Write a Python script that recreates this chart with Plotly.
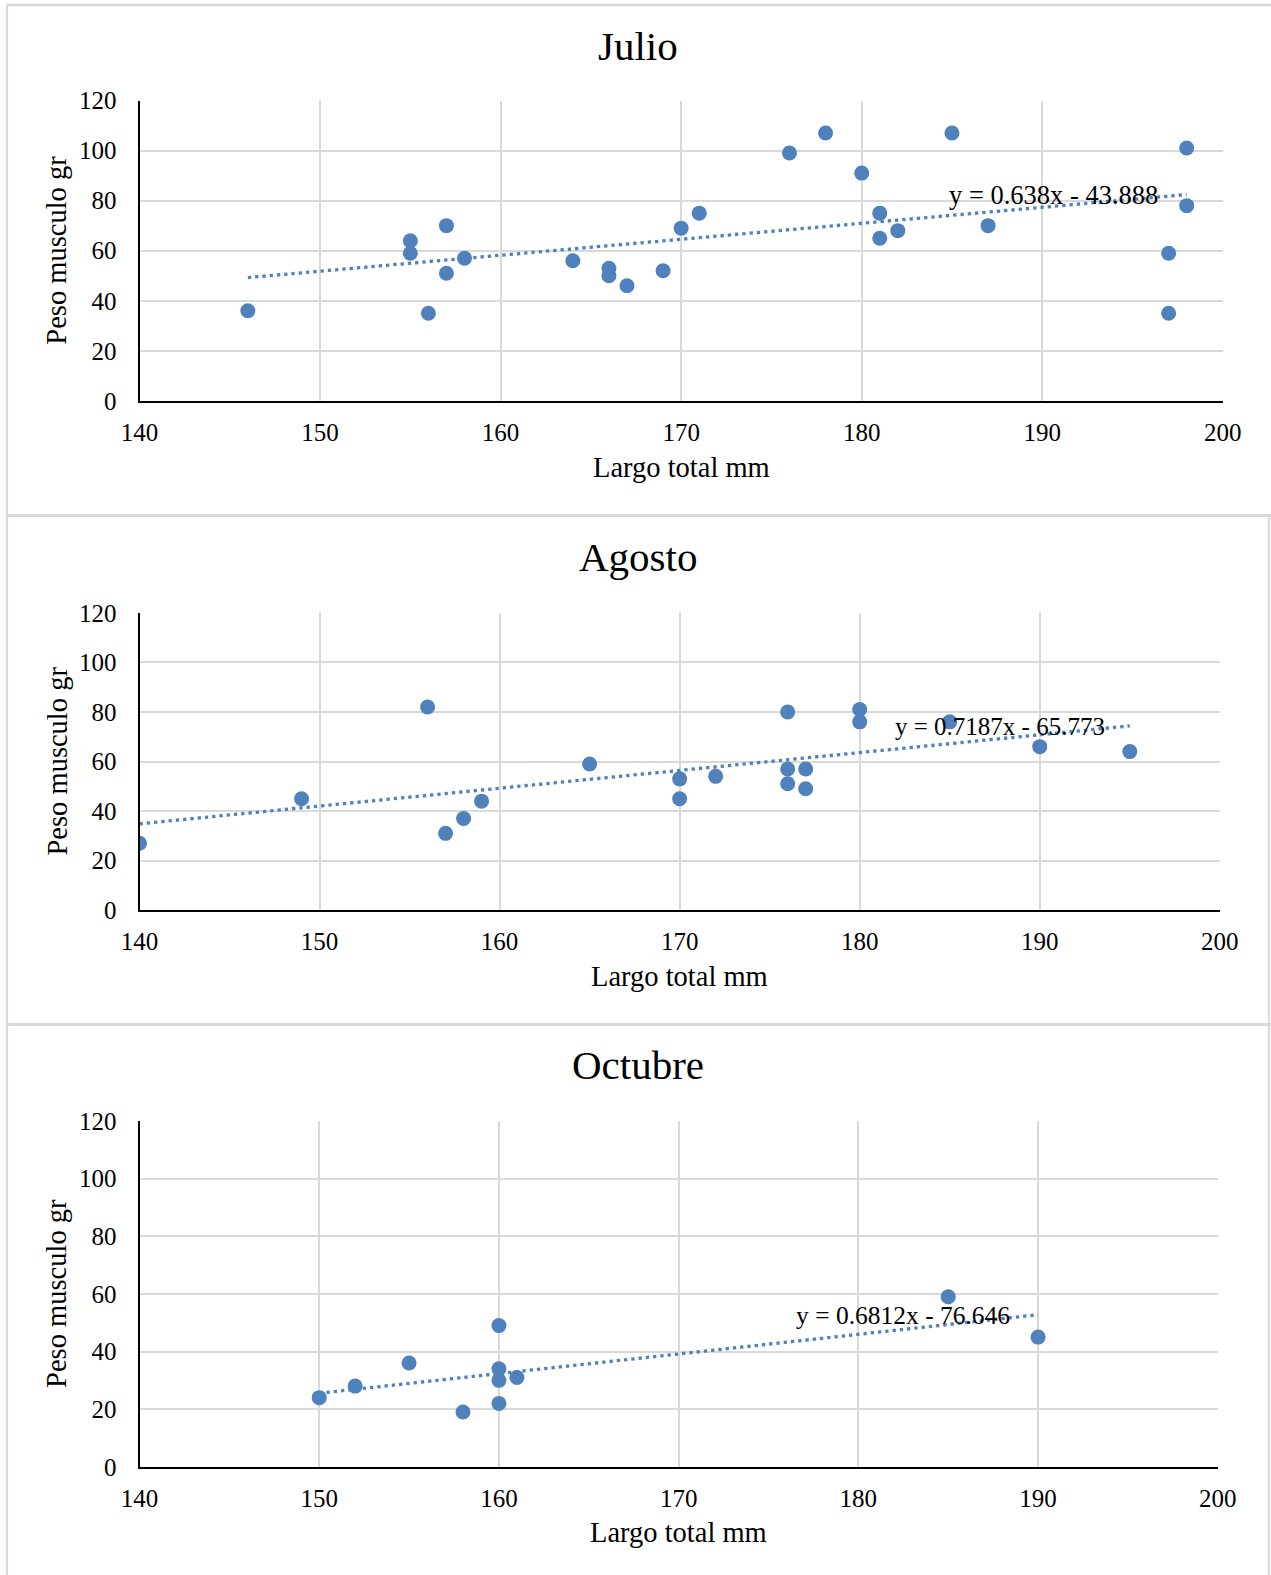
import plotly.graph_objects as go

W, H = 1271, 1575

# ---------------- data ----------------
months = ["Julio", "Agosto", "Octubre"]

julio_x = [146, 155, 155, 157, 157, 156, 158, 164, 166, 166, 167, 169, 170, 171,
           176, 178, 180, 181, 181, 182, 185, 187, 197, 197, 198, 198]
julio_y = [36, 64, 59, 70, 51, 35, 57, 56, 53, 50, 46, 52, 69, 75,
           99, 107, 91, 75, 65, 68, 107, 70, 59, 35, 101, 78]

agosto_x = [140, 149, 156, 157, 158, 159, 165, 170, 170, 172, 176, 176, 176,
            177, 177, 180, 180, 185, 190, 195]
agosto_y = [27, 45, 82, 31, 37, 44, 59, 53, 45, 54, 80, 57, 51,
            57, 49, 81, 76, 76, 66, 64]

octubre_x = [150, 152, 155, 158, 160, 160, 160, 160, 161, 185, 190]
octubre_y = [24, 28, 36, 19, 49, 34, 30, 22, 31, 59, 45]

# trendline coefficients (as printed on chart)
slopes = [0.638, 0.7187, 0.6812]
intercepts = [-43.888, -65.773, -76.646]
equations = ["y = 0.638x - 43.888", "y = 0.7187x - 65.773", "y = 0.6812x - 76.646"]

x_ticks = [140, 150, 160, 170, 180, 190, 200]
y_ticks = [0, 20, 40, 60, 80, 100, 120]

x_title = "Largo total mm"
y_title = "Peso musculo gr"

# ---------------- layout helpers ----------------
def px(x):
    return x / W

def py(y):
    return 1 - y / H

FONT = "Liberation Serif"
BLUE = "#4F81BD"
GRID = "#D9D9D9"

# plot areas in pixels: (left, right, top, bottom)
areas = [
    (139.5, 1222.8, 100.5, 400.9),
    (139.5, 1219.8, 612.8, 910.2),
    (139.5, 1217.8, 1121.0, 1466.8),
]
title_y = [46, 557, 1065]
xtitle_y = [467, 976, 1532]
eq_pos = [(1053, 195), (1000, 726), (903, 1315)]
eq_size = [26.5, 25, 25.5]

xs = [julio_x, agosto_x, octubre_x]
ys = [julio_y, agosto_y, octubre_y]

fig = go.Figure()
annotations = []
shapes = []

for i in range(3):
    sfx = "" if i == 0 else str(i + 1)
    xa = "x" + sfx
    ya = "y" + sfx
    l, r, t, b = areas[i]

    # trendline
    xmin, xmax = min(xs[i]), max(xs[i])
    fig.add_trace(go.Scatter(
        x=[xmin, xmax],
        y=[slopes[i] * xmin + intercepts[i], slopes[i] * xmax + intercepts[i]],
        mode="lines", line=dict(color=BLUE, width=3.3, dash="3.3px,4px"),
        xaxis=xa, yaxis=ya, showlegend=False, hoverinfo="skip"))
    # points
    fig.add_trace(go.Scatter(
        x=xs[i], y=ys[i], mode="markers",
        marker=dict(color=BLUE, size=15, line=dict(width=0)),
        xaxis=xa, yaxis=ya, showlegend=False))

    axis_common = dict(showgrid=True, gridcolor=GRID, gridwidth=1.8,
                       zeroline=False, showline=True, linecolor="black",
                       linewidth=2, ticks="", automargin=False,
                       tickfont=dict(family=FONT, size=25, color="black"))
    fig.update_layout(**{
        "xaxis" + sfx: dict(domain=[px(l), px(r)], range=[140, 200],
                            tickvals=x_ticks, anchor=ya,
                            ticklabelstandoff=8, **axis_common),
        "yaxis" + sfx: dict(domain=[py(b), py(t)], range=[0, 120],
                            tickvals=y_ticks, anchor=xa,
                            ticklabelstandoff=16, **axis_common),
    })

    cx = (l + r) / 2
    annotations.append(dict(text=months[i], x=px(638), y=py(title_y[i]),
                            xref="paper", yref="paper", showarrow=False,
                            xanchor="center", yanchor="middle",
                            font=dict(family=FONT, size=41, color="black")))
    annotations.append(dict(text=x_title, x=px(cx), y=py(xtitle_y[i]),
                            xref="paper", yref="paper", showarrow=False,
                            xanchor="center", yanchor="middle",
                            font=dict(family=FONT, size=28.5, color="black")))
    annotations.append(dict(text=y_title, x=px(57), y=py((t + b) / 2),
                            xref="paper", yref="paper", showarrow=False,
                            xanchor="center", yanchor="middle", textangle=-90,
                            font=dict(family=FONT, size=28.5, color="black")))
    annotations.append(dict(text=equations[i], x=px(eq_pos[i][0]), y=py(eq_pos[i][1]),
                            xref="paper", yref="paper", showarrow=False,
                            xanchor="center", yanchor="middle",
                            font=dict(family=FONT, size=eq_size[i], color="black")))

# panel borders
def line(x0, y0, x1, y1, w=2.5):
    return dict(type="line", xref="paper", yref="paper",
                x0=px(x0), y0=py(y0), x1=px(x1), y1=py(y1),
                line=dict(color=GRID, width=w), layer="below")

shapes += [
    line(7, 5, 1280, 5),
    line(7, 5, 7, 1590, 2.2),
    line(7, 515.5, 1280, 515.5, 3),
    line(7, 1024.5, 1280, 1024.5, 3),
    line(1269, 515.5, 1269, 1590, 2.2),
]

fig.update_layout(width=W, height=H,
                  margin=dict(l=0, r=0, t=0, b=0, pad=0, autoexpand=False),
                  paper_bgcolor="white", plot_bgcolor="white",
                  annotations=annotations, shapes=shapes, showlegend=False)

fig.write_html("out.html")
